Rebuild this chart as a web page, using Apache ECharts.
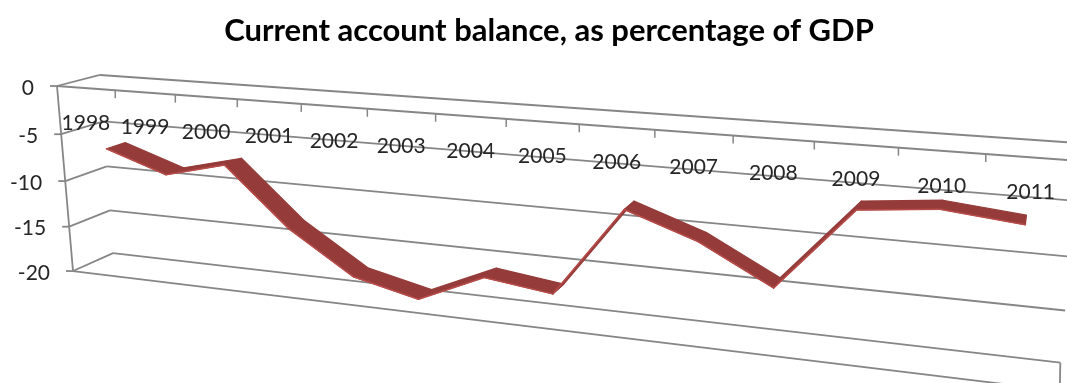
<!DOCTYPE html>
<html><head><meta charset="utf-8">
<style>html,body{margin:0;padding:0;background:#fff}#c{width:1067px;height:383px;filter:blur(0.4px)}</style>
<script src="https://cdn.jsdelivr.net/npm/echarts@6/dist/echarts.min.js"></script>
</head><body><div id="c"></div>
<script>
const years = ['1998','1999','2000','2001','2002','2003','2004','2005','2006','2007','2008','2009','2010','2011'];
const balance = [-6.8,-9.0,-7.4,-13.5,-17.9,-19.5,-16.4,-17.3,-8.2,-10.6,-14.3,-6.3,-5.6,-6.3];
const valueTicks = [0,-5,-10,-15,-20];
const titleText = 'Current account balance, as percentage of GDP';

// Perspective of the 3D plot box: u = category bands, v = units below the axis top, d = depth (0 front, 1 back)
const G = {left:100, top:60, width:800, height:200};
function project(u,v,d){
  const w = 1 - 0.01516*u + 0.00287*v + 0.0443*d;
  return [(57 + 56.5*u + 1.01*v + 47.4*d + 0.085*u*v)/w, (86 + 2.90*u + 10.03*v - 7.7*d + 0.0095*u*v)/w];
}
const uOf = (api,i)=> (api.coord([i,0])[0]-G.left)/G.width*years.length;
const vOf = (api,val)=> (api.coord([0,val])[1]-G.top)/G.height*20;
const U_END = 14.05, RIB_A = 0.36, RIB_B = 0.82;
const GRAY = '#868686', LW = 1.8;
const seg = (a,b,w)=>({type:'line',shape:{x1:a[0],y1:a[1],x2:b[0],y2:b[1]},style:{stroke:GRAY,lineWidth:w||LW}});
const FONT = 'Lato, sans-serif';

function renderFrame(params,api){
  const val = api.value(1), v = vOf(api,val), ch = [];
  const first = valueTicks[0], last = valueTicks[valueTicks.length-1];
  const f = project(0,v,0), b = project(0,v,1);
  ch.push(seg(b,project(U_END,v,1)));
  ch.push(seg(f,b));
  ch.push(seg([f[0]-7,f[1]],f));
  ch.push({type:'text',style:{x:f[0]-23,y:f[1]+2,text:String(val),align:'right',verticalAlign:'middle',font:'21px '+FONT,fill:'#262626'}});
  if(params.dataIndex===0) ch.push(seg(project(0,vOf(api,first),0),project(0,vOf(api,last),0)));
  if(val===first||val===last) ch.push(seg(f,project(U_END,v,0)));
  if(val===last) ch.push(seg(project(U_END,v,1),project(U_END,v,0)));
  return {type:'group',children:ch};
}
function renderCats(params,api){
  const i = api.value(0), u = uOf(api,i), ch = [];
  const t = project(u+0.5,0,0);
  ch.push(seg(t,[t[0],t[1]+8],1.5));
  const c = project(u,0,0);
  ch.push({type:'text',style:{x:c[0],y:c[1]+35,text:years[i],align:'center',verticalAlign:'middle',font:'21px '+FONT,fill:'#262626'}});
  return {type:'group',children:ch};
}
function renderRibbon(params,api){
  const i = api.value(0);
  if(i>=years.length-1) return {type:'group',children:[]};
  const u1 = uOf(api,i), u2 = uOf(api,i+1), v1 = vOf(api,balance[i]), v2 = vOf(api,balance[i+1]);
  const a1 = project(u1,v1,RIB_A), a2 = project(u2,v2,RIB_A), b1 = project(u1,v1,RIB_B), b2 = project(u2,v2,RIB_B);
  return {type:'group',children:[
    {type:'polygon',shape:{points:[a1,a2,b2,b1]},style:{fill:'#953c3a',stroke:'#953c3a',lineWidth:1.2,lineJoin:'round'}},
    {type:'line',shape:{x1:a1[0],y1:a1[1],x2:a2[0],y2:a2[1]},style:{stroke:'#b84c49',lineWidth:1.5,lineCap:'round'}}
  ]};
}
const chart = echarts.init(document.getElementById('c'),null,{renderer:'canvas'});
chart.setOption({
  animation:false,
  backgroundColor:'#fff',
  title:{text:titleText,left:544,top:10,textAlign:'center',textStyle:{fontFamily:'Lato, sans-serif',fontWeight:'bold',fontSize:31,color:'#000'}},
  grid:G,
  xAxis:{type:'category',data:years,show:false},
  yAxis:{type:'value',min:-20,max:0,interval:5,show:false},
  series:[
    {type:'custom',name:'frame',z:1,silent:true,renderItem:renderFrame,encode:{x:0,y:1},data:valueTicks.map(v=>[0,v])},
    {type:'custom',name:'categories',z:2,silent:true,renderItem:renderCats,encode:{x:0,y:1},data:years.map((y,i)=>[i,0])},
    {type:'custom',name:'Current account balance',z:3,silent:true,renderItem:renderRibbon,encode:{x:0,y:1},data:balance.map((v,i)=>[i,v])}
  ]
});
</script></body></html>
